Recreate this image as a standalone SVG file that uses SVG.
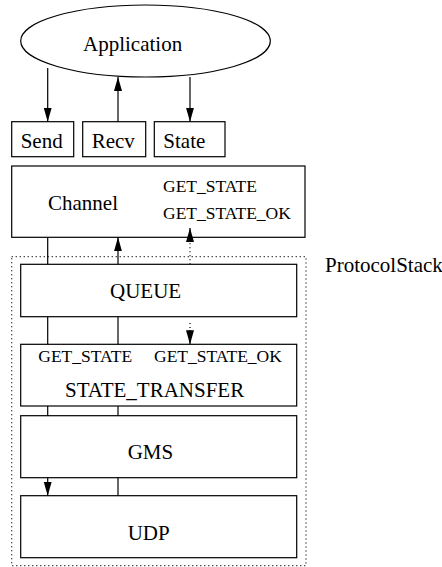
<svg xmlns="http://www.w3.org/2000/svg" width="442" height="567" viewBox="0 0 442 567">
  <style>
    .box { fill: none; stroke: #000; stroke-width: 1.2; }
    .stack { fill: none; stroke: #000; stroke-width: 1.2; stroke-dasharray: 1 3; }
    .lbl { font-family: "Liberation Serif", "Times New Roman", serif; font-size: 21px; fill: #000; }
    .sm { font-family: "Liberation Serif", "Times New Roman", serif; font-size: 17.5px; fill: #000; }
    .edge { stroke: #000; stroke-width: 1.2; fill: none; }
    .dot { stroke: #000; stroke-width: 1.2; fill: none; stroke-dasharray: 1 3; }
  </style>
  <defs>
    <marker id="arrow" markerWidth="14" markerHeight="10" refX="14" refY="5" orient="auto" markerUnits="userSpaceOnUse">
      <path d="M0,1 L14,5 L0,9 Z" fill="#000"/>
    </marker>
  </defs>
  <rect width="442" height="567" fill="#fff"/>

  <g id="application">
    <ellipse cx="145.5" cy="41" rx="124.8" ry="36" class="box"/>
    <text x="83" y="50.5" class="lbl">Application</text>
  </g>

  <g id="send">
    <rect x="11.7" y="121.7" width="62" height="35" class="box"/>
    <text x="20.7" y="148.3" class="lbl">Send</text>
  </g>
  <g id="recv">
    <rect x="82.7" y="121.7" width="63" height="35" class="box"/>
    <text x="91.7" y="148.3" class="lbl">Recv</text>
  </g>
  <g id="state">
    <rect x="154.3" y="121.7" width="70.7" height="35" class="box"/>
    <text x="163.3" y="148.3" class="lbl">State</text>
  </g>

  <g id="channel">
    <rect x="11.7" y="166" width="293.3" height="71.3" class="box"/>
    <text x="48" y="210" class="lbl">Channel</text>
    <text x="163" y="192" class="sm">GET_STATE</text>
    <text x="163" y="219" class="sm">GET_STATE_OK</text>
  </g>

  <g id="protocol-stack">
    <rect x="11.7" y="256.7" width="294.3" height="309" class="stack"/>
    <text x="325" y="271.7" class="lbl">ProtocolStack</text>
  </g>

  <g id="queue">
    <rect x="20.7" y="264.3" width="276" height="52.4" class="box"/>
    <text x="110" y="298.3" class="lbl">QUEUE</text>
  </g>

  <g id="state-transfer">
    <rect x="20.7" y="344.3" width="276" height="61.7" class="box"/>
    <text x="38.3" y="361.7" class="sm">GET_STATE</text>
    <text x="154" y="361.7" class="sm">GET_STATE_OK</text>
    <text x="65" y="397.3" class="lbl">STATE_TRANSFER</text>
  </g>

  <g id="gms">
    <rect x="20.7" y="415.7" width="276" height="62" class="box"/>
    <text x="127.7" y="459.3" class="lbl">GMS</text>
  </g>

  <g id="udp">
    <rect x="20.7" y="495.7" width="276" height="62" class="box"/>
    <text x="127.7" y="540" class="lbl">UDP</text>
  </g>

  <g id="connectors">
    <!-- application to/from the API boxes -->
    <line x1="47.7" y1="68" x2="47.7" y2="121.7" class="edge" marker-end="url(#arrow)"/>
    <line x1="118" y1="121.7" x2="118" y2="77" class="edge" marker-end="url(#arrow)"/>
    <line x1="190" y1="77" x2="190" y2="121.7" class="edge" marker-end="url(#arrow)"/>

    <!-- channel and QUEUE -->
    <line x1="47.7" y1="237.3" x2="47.7" y2="264.3" class="edge"/>
    <line x1="118" y1="264.3" x2="118" y2="237.3" class="edge" marker-end="url(#arrow)"/>
    <line x1="190" y1="264.3" x2="190" y2="242" class="dot"/>
    <line x1="190" y1="242" x2="190" y2="228" class="edge" marker-end="url(#arrow)"/>

    <!-- QUEUE and STATE_TRANSFER -->
    <line x1="47.7" y1="316.7" x2="47.7" y2="344.3" class="edge"/>
    <line x1="118" y1="316.7" x2="118" y2="344.3" class="edge"/>
    <line x1="190" y1="323" x2="190" y2="330" class="dot"/>
    <line x1="190" y1="330" x2="190" y2="344.3" class="edge" marker-end="url(#arrow)"/>

    <!-- STATE_TRANSFER and GMS -->
    <line x1="47.7" y1="406" x2="47.7" y2="415.7" class="edge"/>
    <line x1="118" y1="406" x2="118" y2="415.7" class="edge"/>

    <!-- GMS and UDP -->
    <line x1="47.7" y1="477.7" x2="47.7" y2="495.7" class="edge" marker-end="url(#arrow)"/>
    <line x1="118" y1="477.7" x2="118" y2="495.7" class="edge"/>
  </g>
</svg>
